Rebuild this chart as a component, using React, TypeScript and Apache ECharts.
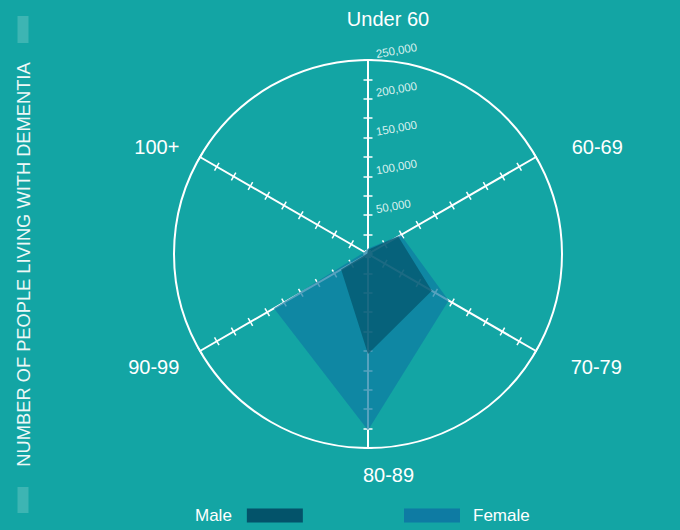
import React, { useEffect, useRef } from 'react';
import * as echarts from 'echarts';

const categories = ['Under 60', '60-69', '70-79', '80-89', '90-99', '100+'];
const maleValues = [5500, 45000, 95000, 129000, 40000, 1000];
const femaleValues = [7000, 49000, 120000, 227000, 140000, 5000];
const axisMax = 250000;
const labelStep = 50000;
const seriesNames = ['Male', 'Female'];
const yAxisTitle = 'NUMBER OF PEOPLE LIVING WITH DEMENTIA';

const FONT = '"Liberation Sans", Arial, Helvetica, sans-serif';
const BG = '#13a5a4';
const MALE = '#03536a';
const FEMALE = '#0e7ba3';

// ECharts lays indicators out counter-clockwise; the reference runs clockwise.
const order = categories.map((_, k) => (categories.length - k) % categories.length);
const reorder = <T,>(arr: T[]) => order.map((i) => arr[i]);

const namePadding: number[][] = [
  [0, 0, 12, 40],
  [0, 0, 10, 27],
  [22, 0, 0, 26],
  [14, 0, 0, 41],
  [22, 12, 0, 0],
  [0, 12, 10, 0],
];

export default function App() {
  const ref = useRef<HTMLDivElement>(null);
  useEffect(() => {
    if (!ref.current) return;
    const chart = echarts.init(ref.current, undefined, { renderer: 'svg' });
    const center = [368, 254];
    const radius = 194;
    const rich: Record<string, any> = {};
    categories.forEach((c, i) => {
      rich['n' + i] = {
        fontSize: 20,
        lineHeight: 20,
        color: '#ffffff',
        fontFamily: FONT,
        padding: namePadding[i],
      };
    });
    const orderedCats = reorder(categories);
    const baseIndicators = orderedCats.map((c) => ({ name: c, min: 0, max: axisMax }));
    const option: any = {
      animation: false,
      backgroundColor: BG,
      radar: [
        {
          center,
          radius,
          startAngle: 90,
          shape: 'circle',
          splitNumber: 10,
          indicator: orderedCats.map((c, i) => ({
            name: c,
            min: 0,
            max: axisMax,
            axisLabel: { show: i === 0 },
          })),
          nameGap: 10,
          axisName: {
            show: true,
            color: '#ffffff',
            fontSize: 20,
            fontFamily: FONT,
            formatter: (name: string) => `{n${categories.indexOf(name)}|${name}}`,
            rich,
          },
          axisLine: { show: true, lineStyle: { color: '#ffffff', width: 2 } },
          axisTick: { show: true, length: 4.5, lineStyle: { color: '#ffffff', width: 1.5 } },
          axisLabel: {
            show: false,
            margin: -9,
            rotate: 10,
            align: 'left',
            verticalAlign: 'bottom',
            fontSize: 11.5,
            fontFamily: FONT,
            color: '#d8f0ee',
            formatter: (v: number) =>
              v > 0 && v % labelStep === 0 ? v.toLocaleString('en-US') : '',
          },
          splitLine: { show: false },
          splitArea: { show: false },
        },
        {
          center,
          radius,
          startAngle: 90,
          shape: 'circle',
          splitNumber: 10,
          indicator: baseIndicators,
          axisName: { show: false },
          axisLine: { show: false },
          axisTick: { show: true, length: -4.5, lineStyle: { color: '#ffffff', width: 1.5 } },
          axisLabel: { show: false },
          splitLine: { show: false },
          splitArea: { show: false },
        },
        {
          center,
          radius,
          startAngle: 90,
          shape: 'circle',
          splitNumber: 1,
          indicator: baseIndicators,
          axisName: { show: false },
          axisLine: { show: false },
          axisTick: { show: false },
          axisLabel: { show: false },
          splitLine: { show: true, lineStyle: { color: '#ffffff', width: 2 } },
          splitArea: { show: false },
        },
      ],
      legend: [
        {
          data: [seriesNames[0]],
          left: 195,
          top: 507,
          align: 'right',
          icon: 'rect',
          itemWidth: 56,
          itemHeight: 14,
          padding: 0,
          selectedMode: false,
          textStyle: { color: '#ffffff', fontSize: 17, fontFamily: FONT, padding: [0, 10, 0, 0] },
        },
        {
          data: [seriesNames[1]],
          left: 404,
          top: 507,
          align: 'left',
          icon: 'rect',
          itemWidth: 56,
          itemHeight: 14,
          padding: 0,
          selectedMode: false,
          textStyle: { color: '#ffffff', fontSize: 17, fontFamily: FONT, padding: [0, 0, 0, 8] },
        },
      ],
      series: [
        {
          type: 'radar',
          radarIndex: 0,
          symbol: 'none',
          lineStyle: { width: 0, opacity: 0 },
          data: [
            {
              name: seriesNames[1],
              value: reorder(femaleValues),
              itemStyle: { color: FEMALE },
              areaStyle: { color: FEMALE, opacity: 0.7 },
            },
            {
              name: seriesNames[0],
              value: reorder(maleValues),
              itemStyle: { color: MALE },
              areaStyle: { color: MALE, opacity: 0.7 },
            },
          ],
        },
      ],
      graphic: [
        { type: 'rect', shape: { x: 17.5, y: 16, width: 11, height: 27 }, style: { fill: '#3db5b3' } },
        { type: 'rect', shape: { x: 17.5, y: 487, width: 11, height: 26 }, style: { fill: '#3db5b3' } },
        {
          type: 'text',
          x: 23.5,
          y: 264.5,
          rotation: Math.PI / 2,
          style: {
            text: yAxisTitle,
            fill: '#eef8f7',
            fontSize: 18.3,
            fontFamily: FONT,
            align: 'center',
            verticalAlign: 'middle',
          },
        },
      ],
    };
    chart.setOption(option);
    return () => chart.dispose();
  }, []);
  return (
    <div
      ref={ref}
      style={{ position: 'fixed', left: 0, top: 0, width: 680, height: 530, background: BG }}
    />
  );
}
